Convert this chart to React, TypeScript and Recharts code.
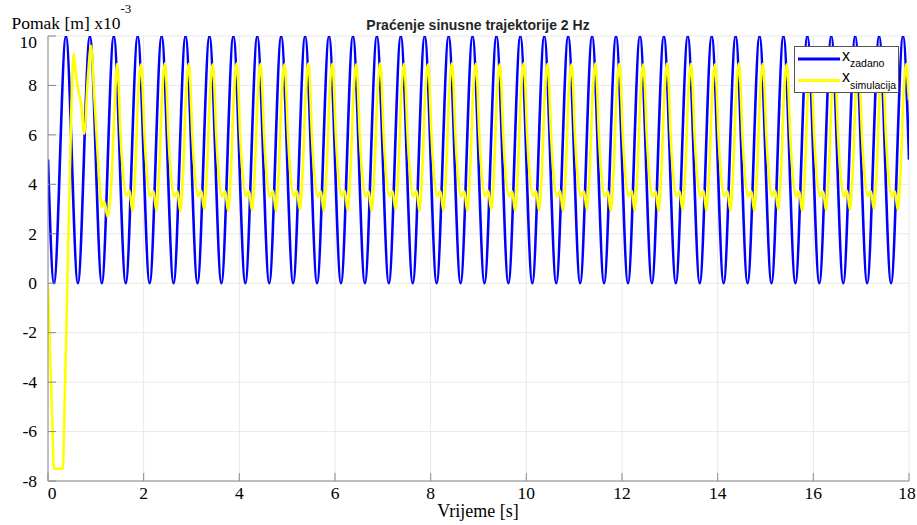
import React from 'react';
import { LineChart, Line, XAxis, YAxis, CartesianGrid, Legend } from 'recharts';

// ---------- data ----------
const xTicks = [0, 2, 4, 6, 8, 10, 12, 14, 16, 18];
const yTicks = [-8, -6, -4, -2, 0, 2, 4, 6, 8, 10];

const seriesNames = ['zadano', 'simulacija'];
const seriesColors = ['#0000ff', '#ffff00'];

// reference trajectory (x 10^-3 m), sampled every 0.125 s from 0 to 18 s
const blueStep = 0.125;
const blueValues = [
  5, 0, 5, 10, 5, 0, 5, 10, 5, 0, 5, 10, 5, 0, 5, 10,
  5, 0, 5, 10, 5, 0, 5, 10, 5, 0, 5, 10, 5, 0, 5, 10,
  5, 0, 5, 10, 5, 0, 5, 10, 5, 0, 5, 10, 5, 0, 5, 10,
  5, 0, 5, 10, 5, 0, 5, 10, 5, 0, 5, 10, 5, 0, 5, 10,
  5, 0, 5, 10, 5, 0, 5, 10, 5, 0, 5, 10, 5, 0, 5, 10,
  5, 0, 5, 10, 5, 0, 5, 10, 5, 0, 5, 10, 5, 0, 5, 10,
  5, 0, 5, 10, 5, 0, 5, 10, 5, 0, 5, 10, 5, 0, 5, 10,
  5, 0, 5, 10, 5, 0, 5, 10, 5, 0, 5, 10, 5, 0, 5, 10,
  5, 0, 5, 10, 5, 0, 5, 10, 5, 0, 5, 10, 5, 0, 5, 10,
  5,
];

// simulated response: start-up transient
const yellowTransientT = [0, 0.11, 0.12, 0.315, 0.325, 0.405, 0.49, 0.537, 0.58, 0.62, 0.69, 0.76, 0.83, 0.9, 0.97, 1.074, 1.122, 1.178, 1.247, 1.33, 1.39];
const yellowTransientV = [-0.1, -6.9, -7.5, -7.5, -6.8, 0, 7.2, 9.3, 8.5, 7.95, 7.27, 6.05, 8.2, 9.6, 7.5, 4.16, 3.08, 3.3, 2.68, 4.3, 7.0];

// simulated response: periodic part, read per cycle (time of each peak, then readings after it)
const yellowPeakTimes = [
  1.445, 1.945, 2.445, 2.945, 3.445, 3.945, 4.445, 4.945, 5.445, 5.945,
  6.445, 6.945, 7.445, 7.945, 8.445, 8.945, 9.445, 9.945, 10.445, 10.945,
  11.445, 11.945, 12.445, 12.945, 13.445, 13.945, 14.445, 14.945, 15.445, 15.945,
  16.445, 16.945, 17.445, 17.945,
];
const yellowCycleOffsets = [0, 0.035, 0.067, 0.12, 0.19, 0.26, 0.32, 0.38, 0.44];
const yellowCycleValues = [
  [8.88, 7.9, 6.2, 4.5, 3.55, 3.75, 2.92, 4.6, 7.6],
  [8.86, 7.9, 6.2, 4.5, 3.52, 3.72, 2.95, 4.6, 7.6],
  [8.9, 7.95, 6.2, 4.5, 3.5, 3.72, 2.92, 4.6, 7.6],
  [8.88, 7.9, 6.2, 4.5, 3.52, 3.74, 2.98, 4.6, 7.6],
  [8.86, 7.9, 6.2, 4.5, 3.5, 3.72, 2.92, 4.6, 7.6],
  [8.9, 7.95, 6.2, 4.5, 3.52, 3.72, 2.95, 4.6, 7.6],
  [8.88, 7.9, 6.2, 4.5, 3.5, 3.74, 2.92, 4.6, 7.6],
  [8.86, 7.9, 6.2, 4.5, 3.52, 3.72, 2.98, 4.6, 7.6],
  [8.9, 7.95, 6.2, 4.5, 3.5, 3.72, 2.92, 4.6, 7.6],
  [8.88, 7.9, 6.2, 4.5, 3.52, 3.74, 2.95, 4.6, 7.6],
  [8.86, 7.9, 6.2, 4.5, 3.5, 3.72, 2.92, 4.6, 7.6],
  [8.9, 7.95, 6.2, 4.5, 3.52, 3.72, 2.98, 4.6, 7.6],
  [8.88, 7.9, 6.2, 4.5, 3.5, 3.74, 2.92, 4.6, 7.6],
  [8.86, 7.9, 6.2, 4.5, 3.52, 3.72, 2.95, 4.6, 7.6],
  [8.9, 7.95, 6.2, 4.5, 3.5, 3.72, 2.92, 4.6, 7.6],
  [8.88, 7.9, 6.2, 4.5, 3.52, 3.74, 2.98, 4.6, 7.6],
  [8.86, 7.9, 6.2, 4.5, 3.5, 3.72, 2.92, 4.6, 7.6],
  [8.9, 7.95, 6.2, 4.5, 3.52, 3.72, 2.95, 4.6, 7.6],
  [8.88, 7.9, 6.2, 4.5, 3.5, 3.74, 2.92, 4.6, 7.6],
  [8.86, 7.9, 6.2, 4.5, 3.52, 3.72, 2.98, 4.6, 7.6],
  [8.9, 7.95, 6.2, 4.5, 3.5, 3.72, 2.92, 4.6, 7.6],
  [8.88, 7.9, 6.2, 4.5, 3.52, 3.74, 2.95, 4.6, 7.6],
  [8.86, 7.9, 6.2, 4.5, 3.5, 3.72, 2.92, 4.6, 7.6],
  [8.9, 7.95, 6.2, 4.5, 3.52, 3.72, 2.98, 4.6, 7.6],
  [8.88, 7.9, 6.2, 4.5, 3.5, 3.74, 2.92, 4.6, 7.6],
  [8.86, 7.9, 6.2, 4.5, 3.52, 3.72, 2.95, 4.6, 7.6],
  [8.9, 7.95, 6.2, 4.5, 3.5, 3.72, 2.92, 4.6, 7.6],
  [8.88, 7.9, 6.2, 4.5, 3.52, 3.74, 2.98, 4.6, 7.6],
  [8.86, 7.9, 6.2, 4.5, 3.5, 3.72, 2.92, 4.6, 7.6],
  [8.9, 7.95, 6.2, 4.5, 3.52, 3.72, 2.95, 4.6, 7.6],
  [8.88, 7.9, 6.2, 4.5, 3.5, 3.74, 2.98, 4.6, 7.6],
  [8.86, 7.9, 6.2, 4.5, 3.52, 3.72, 3.0, 4.6, 7.6],
  [8.9, 7.95, 6.2, 4.5, 3.5, 3.72, 2.98, 4.6, 7.6],
  [8.88, 7.95],
];
const yellowTailT = [18];
const yellowTailV = [7.4];

// ---------- tables built for the library ----------
const blueData = blueValues.map((v, i) => ({ t: i * blueStep, v }));
const yellowData: { t: number; v: number }[] = [];
yellowTransientT.forEach((t, i) => yellowData.push({ t, v: yellowTransientV[i] }));
yellowPeakTimes.forEach((p, k) => {
  yellowCycleValues[k].forEach((v, j) => yellowData.push({ t: +(p + yellowCycleOffsets[j]).toFixed(4), v }));
});
yellowTailT.forEach((t, i) => yellowData.push({ t, v: yellowTailV[i] }));

// ---------- styling ----------
const W = 917;
const H = 525;
const axisColor = '#8a8a8a';
const gridColor = '#e8e8e8';
const serif = "'Liberation Serif', 'Times New Roman', serif";
const sans = "'Liberation Sans', Arial, sans-serif";
const TICK = 8;

const XTickBottom = (props: any) => {
  const { x, y, payload } = props;
  const v = payload.value;
  const dx = v === 0 ? 4 : v === 18 ? -2 : 0;
  return (
    <g>
      <line x1={x} x2={x} y1={y} y2={y - TICK} stroke={axisColor} strokeWidth={1} />
      <text x={x + dx} y={y + 17.5} textAnchor="middle" style={{ fontFamily: serif, fontSize: 17.5 }} fill="#000">
        {v}
      </text>
    </g>
  );
};

const XTickTop = (props: any) => {
  const { x, y } = props;
  return <line x1={x} x2={x} y1={y} y2={y + TICK} stroke={axisColor} strokeWidth={1} />;
};

const YTickLeft = (props: any) => {
  const { x, y, payload } = props;
  const v = payload.value;
  const extra = v === 10 ? 6 : 0;
  return (
    <g>
      <line x1={x} x2={x + TICK} y1={y} y2={y} stroke={axisColor} strokeWidth={1} />
      <text x={x - 11} y={y + 5.8 + extra} textAnchor="end" style={{ fontFamily: serif, fontSize: 17.5 }} fill="#000">
        {v}
      </text>
    </g>
  );
};

const YTickRight = (props: any) => {
  const { x, y } = props;
  return <line x1={x} x2={x - TICK} y1={y} y2={y} stroke={axisColor} strokeWidth={1} />;
};

const YLabelAndTitle = () => (
  <g>
    <text x={11.5} y={29} style={{ fontFamily: serif, fontSize: 17.5 }} fill="#000">
      Pomak [m] x10
      <tspan dy={-16} style={{ fontSize: 13 }}>-3</tspan>
    </text>
    <text x={478} y={30} textAnchor="middle" style={{ fontFamily: sans, fontSize: 14, fontWeight: 'bold' }} fill="#262626">
      Praćenje sinusne trajektorije 2 Hz
    </text>
  </g>
);

const XLabel = () => (
  <text x={478} y={517} textAnchor="middle" style={{ fontFamily: serif, fontSize: 18 }} fill="#000">
    Vrijeme [s]
  </text>
);

const LegendBox = () => (
  <svg width={105} height={47} style={{ display: 'block' }}>
    <rect x={0.5} y={0.5} width={104} height={46} fill="#fff" stroke="#555" strokeWidth={1} />
    {seriesNames.map((name, i) => {
      const cy = i === 0 ? 13 : 34.5;
      return (
        <g key={name}>
          <line x1={4} x2={46} y1={cy} y2={cy} stroke={seriesColors[i]} strokeWidth={2.8} />
          <text x={48} y={cy + 1.5} style={{ fontFamily: sans, fontSize: 16 }} fill="#000">
            x
            <tspan dy={6.5} style={{ fontSize: 10.5 }}>{name}</tspan>
          </text>
        </g>
      );
    })}
  </svg>
);

export default function App() {
  return (
    <div style={{ position: 'absolute', left: 0, top: 0, width: W, height: H, background: '#fff' }}>
      <LineChart width={W} height={H} margin={{ top: 36, right: 8, bottom: 0, left: 0 }}>
        <CartesianGrid stroke={gridColor} strokeWidth={1} />
        <XAxis
          dataKey="t"
          type="number"
          domain={[0, 18]}
          ticks={xTicks}
          allowDataOverflow
          height={44}
          tickSize={0}
          tickMargin={0}
          tickLine={false}
          axisLine={{ stroke: axisColor }}
          tick={<XTickBottom />}
          interval={0}
          label={XLabel}
        />
        <XAxis
          xAxisId="top"
          orientation="top"
          type="number"
          domain={[0, 18]}
          ticks={xTicks}
          height={0}
          tickSize={0}
          tickMargin={0}
          tickLine={false}
          axisLine={{ stroke: axisColor }}
          tick={<XTickTop />}
          interval={0}
        />
        <YAxis
          type="number"
          domain={[-8, 10]}
          ticks={yTicks}
          allowDataOverflow
          width={48}
          tickSize={0}
          tickMargin={0}
          tickLine={false}
          axisLine={{ stroke: axisColor }}
          tick={<YTickLeft />}
          interval={0}
          label={YLabelAndTitle}
        />
        <YAxis
          yAxisId="right"
          orientation="right"
          type="number"
          domain={[-8, 10]}
          ticks={yTicks}
          width={0}
          tickSize={0}
          tickMargin={0}
          tickLine={false}
          axisLine={{ stroke: axisColor }}
          tick={<YTickRight />}
          interval={0}
        />
        <Line
          data={blueData}
          dataKey="v"
          name={seriesNames[0]}
          type="natural"
          stroke={seriesColors[0]}
          strokeWidth={2.6}
          dot={false}
          activeDot={false}
          isAnimationActive={false}
        />
        <Line
          data={yellowData}
          dataKey="v"
          name={seriesNames[1]}
          type="monotone"
          stroke={seriesColors[1]}
          strokeWidth={2.6}
          dot={false}
          activeDot={false}
          isAnimationActive={false}
        />
        <Legend
          layout="vertical"
          align="center"
          verticalAlign="middle"
          content={<LegendBox />}
          wrapperStyle={{ position: 'absolute', left: 794, top: 46, width: 105, height: 47 }}
        />
      </LineChart>
    </div>
  );
}
